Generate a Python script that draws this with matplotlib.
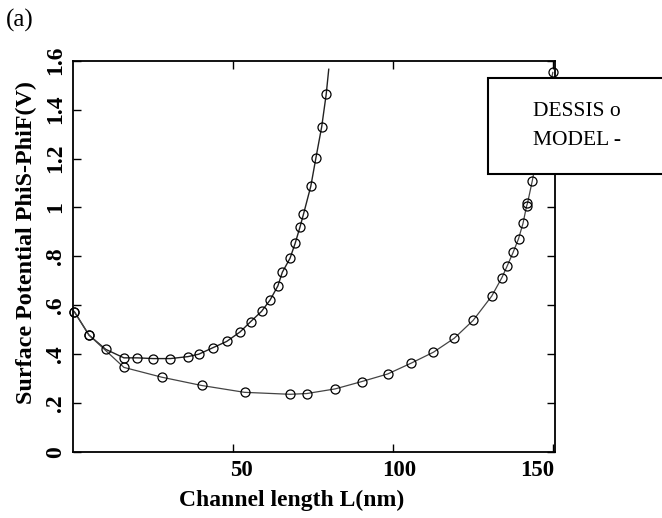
import numpy as np
import matplotlib
matplotlib.use("Agg")
import matplotlib.pyplot as plt
from matplotlib.transforms import ScaledTranslation
from matplotlib.patches import Rectangle

plt.rcParams['font.family'] = ['Liberation Serif', 'DejaVu Serif']

# DESSIS points (circles) and model curve (line)
short_L = [0.5, 5.1, 10.3, 16.0, 20.2, 25.2, 30.5, 36.0, 39.4, 43.9, 48.1, 52.3,
           55.6, 59.0, 61.7, 64.1, 65.5, 67.9, 69.5, 71.0, 72.1, 74.4, 76.0, 77.8, 79.2]
short_phi = [0.574, 0.478, 0.42, 0.385, 0.385, 0.382, 0.382, 0.39, 0.40, 0.427, 0.452, 0.491,
             0.533, 0.575, 0.622, 0.679, 0.735, 0.792, 0.853, 0.919, 0.972, 1.087, 1.203, 1.33, 1.462]
short_model_L = short_L + [80.0]
short_model_phi = short_phi + [1.565]

long_L = [0.5, 5.1, 16.0, 27.8, 40.3, 53.7, 67.9, 73.1, 82.0, 90.3, 98.4, 105.7, 112.7,
          119.2, 125.1, 130.9, 134.1, 135.7, 137.6, 139.3, 140.7, 141.8, 142.1, 143.6, 150.0]
long_phi = [0.574, 0.478, 0.346, 0.306, 0.272, 0.244, 0.236, 0.239, 0.258, 0.288, 0.319, 0.363, 0.408,
            0.465, 0.538, 0.637, 0.713, 0.759, 0.816, 0.872, 0.935, 1.005, 1.017, 1.109, 1.552]

yticks = [0, 0.2, 0.4, 0.6, 0.8, 1.0, 1.2, 1.4, 1.6]
ytick_labels = ['0', '.2', '.4', '.6', '.8', '1', '1.2', '1.4', '1.6']
xticks = [50, 100, 150]
xtick_labels = ['50', '100', '150']

fig = plt.figure(figsize=(6.62, 5.18), dpi=100)
ax = fig.add_axes([0.1098, 0.1274, 0.7286, 0.7554])

ax.plot(short_model_L, short_model_phi, '-', color='#222222', lw=1.0)
ax.plot(long_L, long_phi, '-', color='#444444', lw=0.9)
ax.plot(short_L, short_phi, 'o', mfc='none', mec='black', ms=6.5, mew=0.9, clip_on=False)
ax.plot(long_L, long_phi, 'o', mfc='none', mec='black', ms=6.5, mew=0.9, clip_on=False)

ax.set_xlim(0, 150.7)
ax.set_ylim(0, 1.6)
for s in ax.spines.values():
    s.set_linewidth(1.3)

ax.set_yticks(yticks)
ax.set_yticklabels(ytick_labels, rotation=90, va='center', fontsize=17, fontweight='bold')
ax.set_xticks(xticks)
ax.set_xticklabels(xtick_labels, fontsize=16.5, fontweight='bold')
ax.tick_params(direction='in', length=6, width=1, top=True, right=True)
ax.tick_params(axis='x', pad=6)
ax.tick_params(axis='y', pad=5)

# nudge x tick labels like the original
for lab, dx in zip(ax.get_xticklabels(), [9, 6, -16]):
    lab.set_transform(lab.get_transform() + ScaledTranslation(dx / 100, 0, fig.dpi_scale_trans))

ax.set_xlabel('Channel length L(nm)', fontsize=17, fontweight='bold')
ax.xaxis.set_label_coords(0.4547, -0.097)
ax.set_ylabel('Surface Potential PhiS-PhiF(V)', fontsize=17.4, fontweight='bold')
ax.yaxis.set_label_coords(-0.074, 0.534)

# legend box (drawn over the data, running off the right edge)
fig.patches.append(Rectangle((0.7376, 0.664), 0.3, 0.1848, transform=fig.transFigure,
                             facecolor='white', edgecolor='black', lw=1.5, zorder=10))
fig.text(0.805, 0.7844, 'DESSIS o', fontsize=15.5, va='center', ha='left', zorder=11)
fig.text(0.805, 0.7297, 'MODEL -', fontsize=15.5, va='center', ha='left', zorder=11)

fig.text(0.009, 0.961, '(a)', fontsize=18, va='center', ha='left')

fig.savefig('out.png', dpi=100)
